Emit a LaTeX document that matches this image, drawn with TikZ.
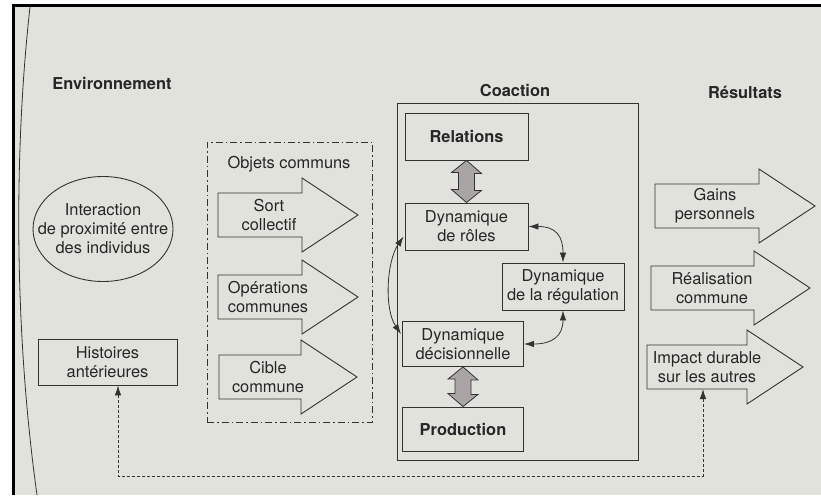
\documentclass[tikz,border=0pt]{standalone}
\usepackage{fontspec}
\setmainfont{TeX Gyre Heros}
\usetikzlibrary{arrows.meta,calc}
\definecolor{bg}{RGB}{226,226,221}
\definecolor{ink}{RGB}{50,50,50}
\definecolor{txtc}{RGB}{38,38,38}
\definecolor{dblfill}{RGB}{170,165,165}
\newcommand{\fatarr}[3]{%
  \draw[fatline] (#1,{#2-22}) -- ({#3-56},{#2-22}) -- ({#3-56},{#2-37}) -- (#3,#2)
   -- ({#3-56},{#2+37}) -- ({#3-56},{#2+22}) -- (#1,{#2+22}) -- cycle;}
\tikzset{
  txt/.style={font=\fontsize{16.4}{19}\selectfont, text=txtc, align=center, inner sep=0pt},
  ttl/.style={font=\fontsize{16.4}{19}\selectfont\bfseries, text=txtc, inner sep=0pt},
  box/.style={draw=ink, line width=0.9pt, txt},
  fatline/.style={draw=ink, line width=0.9pt, line join=miter},
  dblarrow/.style={draw=ink, line width=0.8pt, fill=dblfill},
  tip/.tip={Latex[length=10pt,width=6.5pt]},
  con/.style={draw=ink, line width=0.8pt, tip-tip},
  dcon/.style={draw=ink, line width=0.8pt, dash pattern=on 3pt off 2pt, tip-tip},
}
\begin{document}
\begin{tikzpicture}[x=1pt,y=-1pt]
\useasboundingbox (0,0) rectangle (821,495);
\fill[white] (0,0) rectangle (821,495);
\fill[bg] (14,7) rectangle (821,495);
\draw[black, line width=3pt] (13.5,495) -- (13.5,6) -- (821,6);
\draw[ink, line width=0.8pt] (30,7) .. controls (14,150) and (14,330) .. (37,495);

% titles
\node[ttl] (env) at (112,83) {Environnement};
\node[ttl] (coa) at (515,90) {Coaction};
\node[ttl] (res) at (745,92) {Résultats};

% environment
\node[txt] (inter) at (103,229) {Interaction\\de proximité entre\\des individus};
\draw[ink, line width=0.9pt] (inter.center) ellipse (70pt and 52.5pt);
\node[box, minimum width=139pt, minimum height=46pt] (hist) at (107.5,362) {Histoires\\antérieures};

% objets communs
\node[draw=ink, line width=0.8pt, dash pattern=on 7pt off 3pt on 1.5pt off 3pt,
      minimum width=165pt, minimum height=280pt, inner sep=0pt] (obj) at (289.5,282) {};
\node[txt] (objt) at (289,164) {Objets communs};
\fatarr{218}{215}{358}
\node[txt] (sort) at (269,215) {Sort\\collectif};
\fatarr{218}{297}{358}
\node[txt] (oper) at (268,297) {Opérations\\communes};
\fatarr{219}{377}{357}
\node[txt] (cible) at (268,377) {Cible\\commune};

% coaction
\node[draw=ink, line width=0.9pt, minimum width=241pt, minimum height=357pt, inner sep=0pt] (coab) at (517.5,281.5) {};
\node[box, minimum width=123pt, minimum height=47pt, font=\fontsize{16.4}{19}\selectfont\bfseries] (rel) at (466.5,136.5) {Relations};
\node[box, minimum width=123pt, minimum height=47pt] (roles) at (466.5,226.5) {Dynamique\\de rôles};
\node[box, minimum width=122pt, minimum height=47pt] (reg) at (563,286.5) {Dynamique\\de la régulation};
\node[box, minimum width=121pt, minimum height=45pt] (dec) at (463,344) {Dynamique\\décisionnelle};
\node[box, minimum width=121pt, minimum height=44pt, font=\fontsize{16.4}{19}\selectfont\bfseries] (prod) at (463,429) {Production};

\draw[dblarrow] (rel.south) -- ++(15,13) -- ++(-7,0) -- ++(0,17) -- ++(7,0) -- (roles.north)
  -- ++(-15,-13) -- ++(7,0) -- ++(0,-17) -- ++(-7,0) -- cycle;
\draw[dblarrow] (dec.south) -- ++(15,13) -- ++(-7,0) -- ++(0,14.5) -- ++(7,0) -- (prod.north)
  -- ++(-15,-13) -- ++(7,0) -- ++(0,-14.5) -- ++(-7,0) -- cycle;

\draw[con] (roles.east) .. controls +(28,0) and +(0,-26) .. (reg.north);
\draw[con] (dec.east) .. controls +(28,0) and +(0,26) .. (reg.south);
\draw[con] ($(roles.west)+(-1,10)$) .. controls +(-17,25) and +(-17,-25) .. ($(dec.west)+(-1,-10)$);

% resultats
\fatarr{655}{206}{815}
\node[txt] (gains) at (715,206) {Gains\\personnels};
\fatarr{651}{288}{810}
\node[txt] (real) at (712,288) {Réalisation\\commune};
\fatarr{647}{367}{803}
\node[txt] (impact) at (707,367) {Impact durable\\sur les autres};

% dotted feedback
\coordinate (impb) at (703,389);
\coordinate (histb) at ($(hist.south)+(10.5,0)$);
\draw[dcon] (histb) |- ($(impb)+(0,87)$) -- (impb);
\end{tikzpicture}
\end{document}
